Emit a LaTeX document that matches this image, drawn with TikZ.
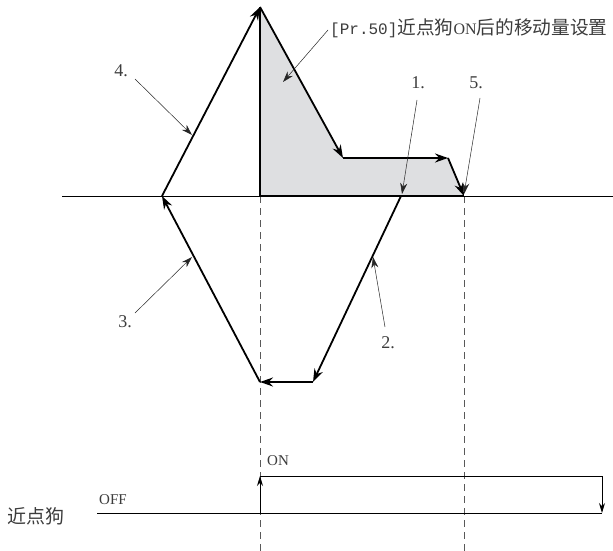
\documentclass[tikz,border=0pt]{standalone}
\usepackage{fontspec}
\setmainfont{Liberation Serif}
\newfontfamily\cjk{Noto Sans CJK SC}
\newfontfamily\monof{Liberation Mono}
\usetikzlibrary{arrows.meta}
\definecolor{shadegray}{RGB}{222,223,225}
\definecolor{txtgray}{RGB}{60,60,60}
\begin{document}
\begin{tikzpicture}[x=1pt,y=-1pt,
  traj/.style={line width=1.8pt, -{Stealth[length=13pt,width=9pt]}},
  lead/.style={line width=0.5pt, draw=black!85, -{Stealth[length=11pt,width=7pt]}},
  dashv/.style={line width=0.9pt, draw=black!65, dash pattern=on 7pt off 5pt},
  sig/.style={line width=0.9pt},
  sigarr/.style={line width=0.9pt, -{Stealth[length=10pt,width=6pt]}},
  num/.style={font=\fontsize{18}{18}\selectfont, text=txtgray, inner sep=0pt},
  sml/.style={font=\fontsize{15}{15}\selectfont, text=txtgray, inner sep=0pt, anchor=west},
  lbl/.style={text=txtgray, inner sep=0pt, anchor=west}]
\useasboundingbox (0,0) rectangle (613,551);
% trajectory points
\coordinate (P1) at (401,196);
\coordinate (P2) at (313,382);
\coordinate (P3) at (260,382);
\coordinate (P4) at (162,196);
\coordinate (P5) at (260,7);
\coordinate (P6) at (343,158);
\coordinate (P7) at (448,158);
\coordinate (P8) at (464,196);
\coordinate (Z) at (260,196);
\coordinate (A0) at (62,196);
\coordinate (A1) at (613,196);
\coordinate (D1b) at (260,551);
\coordinate (D2b) at (464,551);
% shaded area
\fill[shadegray] (P5) -- (P6) -- (P7) -- (P8) -- (Z) -- cycle;
% dashed guides
\draw[dashv] (Z) -- (D1b);
\draw[dashv] (P8) -- (D2b);
% axis
\draw[line width=1pt] (A0) -- (A1);
\draw[line width=1.8pt] (P5) -- (Z) -- (P8);
% trajectory
\draw[traj] (P1) -- (P2);
\draw[traj] (P2) -- (P3);
\draw[traj] (P3) -- (P4);
\draw[traj] (P4) -- (P5);
\draw[traj] (P5) -- (P6);
\draw[traj] (P6) -- (P7);
\draw[traj] (P7) -- (P8);
% labels
\node[num] (n4) at (121,71) {4.};
\node[num] (n3) at (125,322) {3.};
\node[num] (n2) at (388,343) {2.};
\node[num] (n1) at (418,83) {1.};
\node[num] (n5) at (476,83) {5.};
\node[lbl] (lab) at (330,28) {{\monof\fontsize{16}{16}\selectfont[Pr.50]}{\cjk\fontsize{18.7}{18.7}\selectfont 近点狗}{\fontsize{16}{16}\selectfont ON}{\cjk\fontsize{18.7}{18.7}\selectfont 后的移动量设置}};
% leader coordinates
\coordinate (L4s) at (135,79);  \coordinate (L4e) at (192,135);
\coordinate (L3s) at (135,313); \coordinate (L3e) at (192,257);
\coordinate (L2s) at (385,327); \coordinate (L2e) at (373,257);
\coordinate (L1s) at (417,100); \coordinate (L1e) at (402,194);
\coordinate (L5s) at (480,98);  \coordinate (L5e) at (464,194);
\coordinate (LPs) at (328,30);  \coordinate (LPe) at (283,82);
\draw[lead] (L4s) -- (L4e);
\draw[lead] (L3s) -- (L3e);
\draw[lead] (L2s) -- (L2e);
\draw[lead] (L1s) -- (L1e);
\draw[lead] (L5s) -- (L5e);
\draw[lead] (LPs) -- (LPe);
% dog signal
\coordinate (S0) at (97,513);
\coordinate (S1) at (260,513);
\coordinate (S2) at (260,476);
\coordinate (S3) at (602,476);
\coordinate (S4) at (602,513);
\draw[sig] (S0) -- (S4);
\draw[sigarr] (S1) -- (S2);
\draw[sig] (S2) -- (S3);
\draw[sigarr] (S3) -- (S4);
\node[sml] (on) at (267,461) {ON};
\node[sml] (off) at (99,500) {OFF};
\node[lbl, font=\cjk\fontsize{19}{19}\selectfont] (dog) at (7,516) {近点狗};
\end{tikzpicture}
\end{document}
